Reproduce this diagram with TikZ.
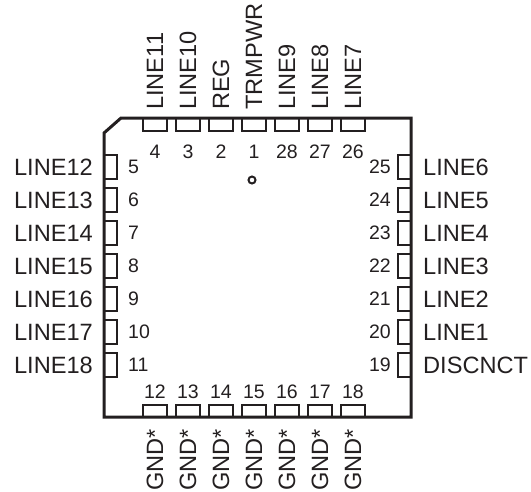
\documentclass[tikz,border=0pt]{standalone}
\usepackage{fontspec}
\setmainfont{Liberation Sans}
\definecolor{ink}{RGB}{35,31,32}
\tikzset{
  x=1pt,y=-1pt,
  body/.style={draw=ink,line width=3pt,line join=miter},
  pinbox/.style={draw=ink,line width=2pt},
  lab/.style={inner sep=0pt,text=ink,font=\fontsize{23.6}{24}\selectfont},
  num/.style={inner sep=0pt,text=ink,font=\fontsize{19.5}{20}\selectfont},
}
\begin{document}
\begin{tikzpicture}
\useasboundingbox (0,0) rectangle (531,491);
% pins
\foreach \n/\i in {4/0,3/1,2/2,1/3,28/4,27/5,26/6}{
  \draw[pinbox] ({142.5+33*\i},118) rectangle ({166.5+33*\i},131);
  \node[num,anchor=center] (n\n) at ({155+33*\i},152) {\n};
}
\foreach \n/\i in {12/0,13/1,14/2,15/3,16/4,17/5,18/6}{
  \draw[pinbox] ({142.5+33*\i},405) rectangle ({166.5+33*\i},417);
  \node[num,anchor=center] (n\n) at ({155+33*\i},392) {\n};
  \node[lab,rotate=90,anchor=east] (g\n) at ({155+33*\i},429) {GND*};
}
\foreach \n/\l/\i in {5/LINE12/0,6/LINE13/1,7/LINE14/2,8/LINE15/3,9/LINE16/4,10/LINE17/5,11/LINE18/6}{
  \draw[pinbox] (104,{154.5+33*\i}) rectangle (117,{178.5+33*\i});
  \node[num,anchor=west] (n\n) at (128,{167+33*\i}) {\n};
  \node[lab,anchor=east] (l\n) at (93,{167+33*\i}) {\l};
}
\foreach \n/\l/\i in {25/LINE6/0,24/LINE5/1,23/LINE4/2,22/LINE3/3,21/LINE2/4,20/LINE1/5,19/DISCNCT/6}{
  \draw[pinbox] (398,{154.5+33*\i}) rectangle (411,{178.5+33*\i});
  \node[num,anchor=east] (n\n) at (391,{167+33*\i}) {\n};
  \node[lab,anchor=west] (l\n) at (423,{167+33*\i}) {\l};
}
\foreach \l/\i in {LINE11/0,LINE10/1,REG/2,TRMPWR/3,LINE9/4,LINE8/5,LINE7/6}{
  \node[lab,rotate=90,anchor=west] (t\i) at ({155+33*\i},110) {\l};
}
\draw[body] (104,133) -- (121,118) -- (411,118) -- (411,417) -- (104,417) -- cycle;
\draw[ink,line width=2pt] (252,180) circle (3.5);
\end{tikzpicture}
\end{document}
